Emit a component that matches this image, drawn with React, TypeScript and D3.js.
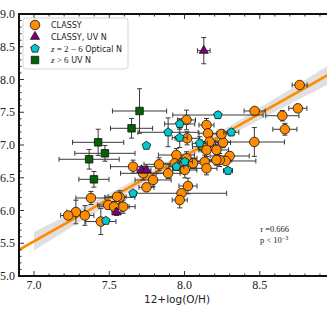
import React from 'react';
import * as d3 from 'd3';

// CLASSY (orange circles)
const classyX = [8.765, 8.466, 8.753, 8.65, 8.667, 8.464, 8.3, 8.274, 8.256, 8.245, 8.234, 8.013, 8.146, 8.017, 8.156, 8.167, 8.123, 8.146, 8.212, 7.946, 8.013, 8.057, 8.134, 8.212, 7.98, 7.935, 8.002, 8.146, 7.658, 7.831, 7.891, 7.725, 7.791, 7.747, 8.023, 7.98, 7.968, 7.57, 7.592, 7.378, 7.278, 7.227, 7.338, 7.444, 7.493, 7.552, 7.532];
const classyY = [7.916, 7.519, 7.56, 7.447, 7.24, 7.046, 6.832, 6.756, 7.038, 7.168, 6.771, 7.382, 7.305, 7.102, 7.179, 7.05, 6.974, 6.924, 6.924, 6.847, 6.797, 6.721, 6.745, 6.771, 6.669, 6.721, 6.618, 6.644, 6.669, 6.705, 6.568, 6.568, 6.466, 6.354, 6.374, 6.263, 6.16, 6.202, 6.058, 6.191, 5.977, 5.924, 5.924, 5.832, 6.084, 6.211, 6.058];
const classyXErr = [0.05, 0.07, 0.06, 0.11, 0.08, 0.2, 0.13, 0.2, 0.05, 0.06, 0.08, 0.06, 0.05, 0.08, 0.06, 0.05, 0.07, 0.05, 0.08, 0.12, 0.07, 0.1, 0.06, 0.07, 0.06, 0.1, 0.08, 0.07, 0.15, 0.1, 0.08, 0.15, 0.12, 0.05, 0.06, 0.3, 0.05, 0.1, 0.08, 0.1, 0.06, 0.05, 0.06, 0.1, 0.07, 0.06, 0.1];
const classyYErr = [0.04, 0.05, 0.04, 0.08, 0.09, 0.22, 0.06, 0.05, 0.08, 0.06, 0.1, 0.15, 0.1, 0.1, 0.12, 0.08, 0.08, 0.1, 0.08, 0.1, 0.1, 0.08, 0.1, 0.08, 0.1, 0.08, 0.12, 0.1, 0.1, 0.1, 0.08, 0.1, 0.1, 0.06, 0.12, 0.06, 0.12, 0.1, 0.1, 0.1, 0.18, 0.05, 0.15, 0.2, 0.06, 0.06, 0.08];

// CLASSY, UV N (purple triangles)
const uvX = [8.128, 7.714, 7.747, 7.548];
const uvY = [8.44, 6.618, 6.618, 5.973];
const uvXErr = [0.042, 0.03, 0.03, 0.03];
const uvYErr = [0.2, 0.05, 0.05, 0.05];

// z = 2-6 Optical N (cyan pentagons)
const optX = [7.968, 7.891, 8.222, 7.968, 7.747, 8.002, 7.946, 8.101, 7.658, 8.311, 8.289, 7.477];
const optY = [7.321, 7.194, 7.458, 7.112, 6.99, 6.745, 6.669, 7.026, 6.263, 7.194, 6.608, 5.844];
const optXErr = [0.1, 0.2, 0.3, 0.05, 0, 0.05, 0.05, 0.05, 0, 0.05, 0.03, 0];
const optYErr = [0.08, 0.22, 0.05, 0.15, 0, 0.05, 0.05, 0.1, 0, 0.05, 0.05, 0];

// z > 6 UV N (green squares)
const hizX = [7.701, 7.648, 7.426, 7.471, 7.366, 7.398];
const hizY = [7.519, 7.255, 7.041, 6.873, 6.782, 6.476];
const hizXErr = [0.18, 0.14, 0.17, 0.2, 0.2, 0.1];
const hizYErr = [0.34, 0.15, 0.2, 0.12, 0.15, 0.12];

// linear fit and its confidence band
const fitSlope = 1.3;
const fitIntercept = -3.57;
const bandX = [7.0, 7.5, 8.0, 8.5, 9.0];
const bandHalf = [0.14, 0.08, 0.06, 0.09, 0.15];

const xMajor = [7.0, 7.5, 8.0, 8.5, 9.0];
const xLabels = ['7.0', '7.5', '8.0', '8.5'];
const yMajor = [5.0, 5.5, 6.0, 6.5, 7.0, 7.5, 8.0, 8.5, 9.0];
const legendLabels = ['CLASSY', 'CLASSY, UV N', 'z = 2 − 6 Optical N', 'z > 6 UV N'];

const ORANGE = '#ff8c00';
const PURPLE = '#800080';
const CYAN = '#00c8d0';
const GREEN = '#006400';
const BAR = '#3a3a3a';

const pentagon = (r: number) => {
  const pts = d3.range(5).map(i => {
    const a = -Math.PI / 2 + (i * 2 * Math.PI) / 5;
    return [r * Math.cos(a), r * Math.sin(a)] as [number, number];
  });
  return d3.line()(pts) + 'Z';
};

const circlePath = d3.symbol(d3.symbolCircle, 72)() as string;
const trianglePath = d3.symbol(d3.symbolTriangle, 36)() as string;
const squarePath = d3.symbol(d3.symbolSquare, 56)() as string;
const pentPath = pentagon(4.5);

const App = () => {
  const width = 327;
  const height = 316;
  const left = 19, right = 335, top = 14, bottom = 276;

  const x = d3.scaleLinear().domain([6.9, 9.0]).range([left, right]);
  const y = d3.scaleLinear().domain([5, 9]).range([bottom, top]);

  const xMinor = d3.range(69, 91).map(d => d / 10);
  const yMinor = d3.range(50, 91).map(d => d / 10);

  const fitLine = d3.line<number>()
    .x(d => x(d))
    .y(d => y(fitSlope * d + fitIntercept))([6.9, 9.0]);

  const band = d3.area<number>()
    .curve(d3.curveNatural)
    .x(d => x(bandX[d]))
    .y0((d) => y(fitSlope * bandX[d] + fitIntercept - bandHalf[d]))
    .y1((d) => y(fitSlope * bandX[d] + fitIntercept + bandHalf[d]))(d3.range(bandX.length));

  const errBars = (xs: number[], ys: number[], xe: number[], ye: number[], key: string) =>
    xs.map((xv, i) => {
      const cx = x(xv), cy = y(ys[i]);
      const x0 = x(xv - xe[i]), x1 = x(xv + xe[i]);
      const y0 = y(ys[i] - ye[i]), y1 = y(ys[i] + ye[i]);
      if (xe[i] === 0 && ye[i] === 0) return null;
      return (
        <g key={key + i} stroke={BAR} strokeWidth={1} fill="none">
          <line x1={x0} x2={x1} y1={cy} y2={cy} />
          <line x1={x0} x2={x0} y1={cy - 2.5} y2={cy + 2.5} />
          <line x1={x1} x2={x1} y1={cy - 2.5} y2={cy + 2.5} />
          <line x1={cx} x2={cx} y1={y0} y2={y1} />
          <line x1={cx - 2.5} x2={cx + 2.5} y1={y0} y2={y0} />
          <line x1={cx - 2.5} x2={cx + 2.5} y1={y1} y2={y1} />
        </g>
      );
    });

  const markers = (xs: number[], ys: number[], path: string, fill: string, key: string) =>
    xs.map((xv, i) => (
      <path key={key + i} d={path} transform={`translate(${x(xv)},${y(ys[i])})`}
        fill={fill} stroke="#111" strokeWidth={0.8} />
    ));

  const legendMarks = [
    { path: circlePath, fill: ORANGE },
    { path: trianglePath, fill: PURPLE },
    { path: pentPath, fill: CYAN },
    { path: squarePath, fill: GREEN },
  ];
  const legendRowY = [25, 36.7, 48.5, 60];

  return (
    <svg width={width} height={height} style={{ position: 'absolute', left: 0, top: 0, background: '#fff' }}>
      <defs>
        <clipPath id="plotclip">
          <rect x={left} y={top} width={right - left} height={bottom - top} />
        </clipPath>
      </defs>
      <g clipPath="url(#plotclip)">
        <path d={band || ''} fill="#d6d6d6" opacity={0.75} />
        <path d={fitLine || ''} stroke={ORANGE} strokeWidth={2.6} fill="none" />
        {errBars(classyX, classyY, classyXErr, classyYErr, 'ce')}
        {markers(classyX, classyY, circlePath, ORANGE, 'cm')}
        {errBars(uvX, uvY, uvXErr, uvYErr, 'ue')}
        {markers(uvX, uvY, trianglePath, PURPLE, 'um')}
        {errBars(optX, optY, optXErr, optYErr, 'oe')}
        {markers(optX, optY, pentPath, CYAN, 'om')}
        {errBars(hizX, hizY, hizXErr, hizYErr, 'he')}
        {markers(hizX, hizY, squarePath, GREEN, 'hm')}
      </g>

      {/* ticks */}
      <g stroke="#000" strokeWidth={0.8}>
        {xMinor.map(d => {
          const major = xMajor.some(m => Math.abs(m - d) < 1e-6);
          const len = major ? 5 : 2.5;
          return (
            <g key={'xt' + d}>
              <line x1={x(d)} x2={x(d)} y1={bottom} y2={bottom - len} />
              <line x1={x(d)} x2={x(d)} y1={top} y2={top + len} />
            </g>
          );
        })}
        {yMinor.map(d => {
          const major = yMajor.some(m => Math.abs(m - d) < 1e-6);
          const len = major ? 5 : 2.5;
          return (
            <g key={'yt' + d}>
              <line x1={left} x2={left + len} y1={y(d)} y2={y(d)} />
              <line x1={right} x2={right - len} y1={y(d)} y2={y(d)} />
            </g>
          );
        })}
      </g>

      {/* spines */}
      <rect x={left} y={top} width={right - left} height={bottom - top} fill="none" stroke="#111" strokeWidth={2} />

      {/* tick labels */}
      <g fontFamily="'Liberation Serif', serif" fontSize={12} fill="#222">
        {xLabels.map(d => (
          <text key={'xl' + d} x={x(+d)} y={bottom + 13} textAnchor="middle">{d}</text>
        ))}
        {yMajor.map(d => (
          <text key={'yl' + d} x={left - 4} y={y(d) + 4} textAnchor="end">{d.toFixed(1)}</text>
        ))}
      </g>
      <text x={(left + right) / 2} y={303} textAnchor="middle" fontFamily="'DejaVu Sans', sans-serif"
        fontSize={10.5} fill="#222">12+log(O/H)</text>

      {/* annotation */}
      <g fontFamily="'Liberation Serif', serif" fontSize={8.5} fill="#222">
        <text x={260} y={232}><tspan fontStyle="italic">τ</tspan> =0.666</text>
        <text x={260} y={243}>p &lt; 10<tspan fontSize={6} dy={-3}>−3</tspan></text>
      </g>

      {/* legend */}
      <rect x={23} y={18} width={105} height={51} rx={3} fill="#fff" fillOpacity={0.85} stroke="#ccc" strokeWidth={0.8} />
      {legendMarks.map((m, i) => (
        <path key={'lm' + i} d={m.path} transform={`translate(35,${legendRowY[i]})`} fill={m.fill} stroke="#111" strokeWidth={0.8} />
      ))}
      <g fontFamily="'DejaVu Sans', sans-serif" fontSize={8} fill="#222">
        <text x={51} y={legendRowY[0] + 3}>{legendLabels[0]}</text>
        <text x={51} y={legendRowY[1] + 3}>{legendLabels[1]}</text>
        <text x={51} y={legendRowY[2] + 3}>
          <tspan fontFamily="'Liberation Serif', serif" fontStyle="italic" fontSize={9}>z</tspan>
          <tspan fontFamily="'Liberation Serif', serif" fontSize={9}> = 2 − 6</tspan> Optical N
        </text>
        <text x={51} y={legendRowY[3] + 3}>
          <tspan fontFamily="'Liberation Serif', serif" fontStyle="italic" fontSize={9}>z</tspan>
          <tspan fontFamily="'Liberation Serif', serif" fontSize={9}> &gt; 6</tspan> UV N
        </text>
      </g>
    </svg>
  );
};

export default App;
